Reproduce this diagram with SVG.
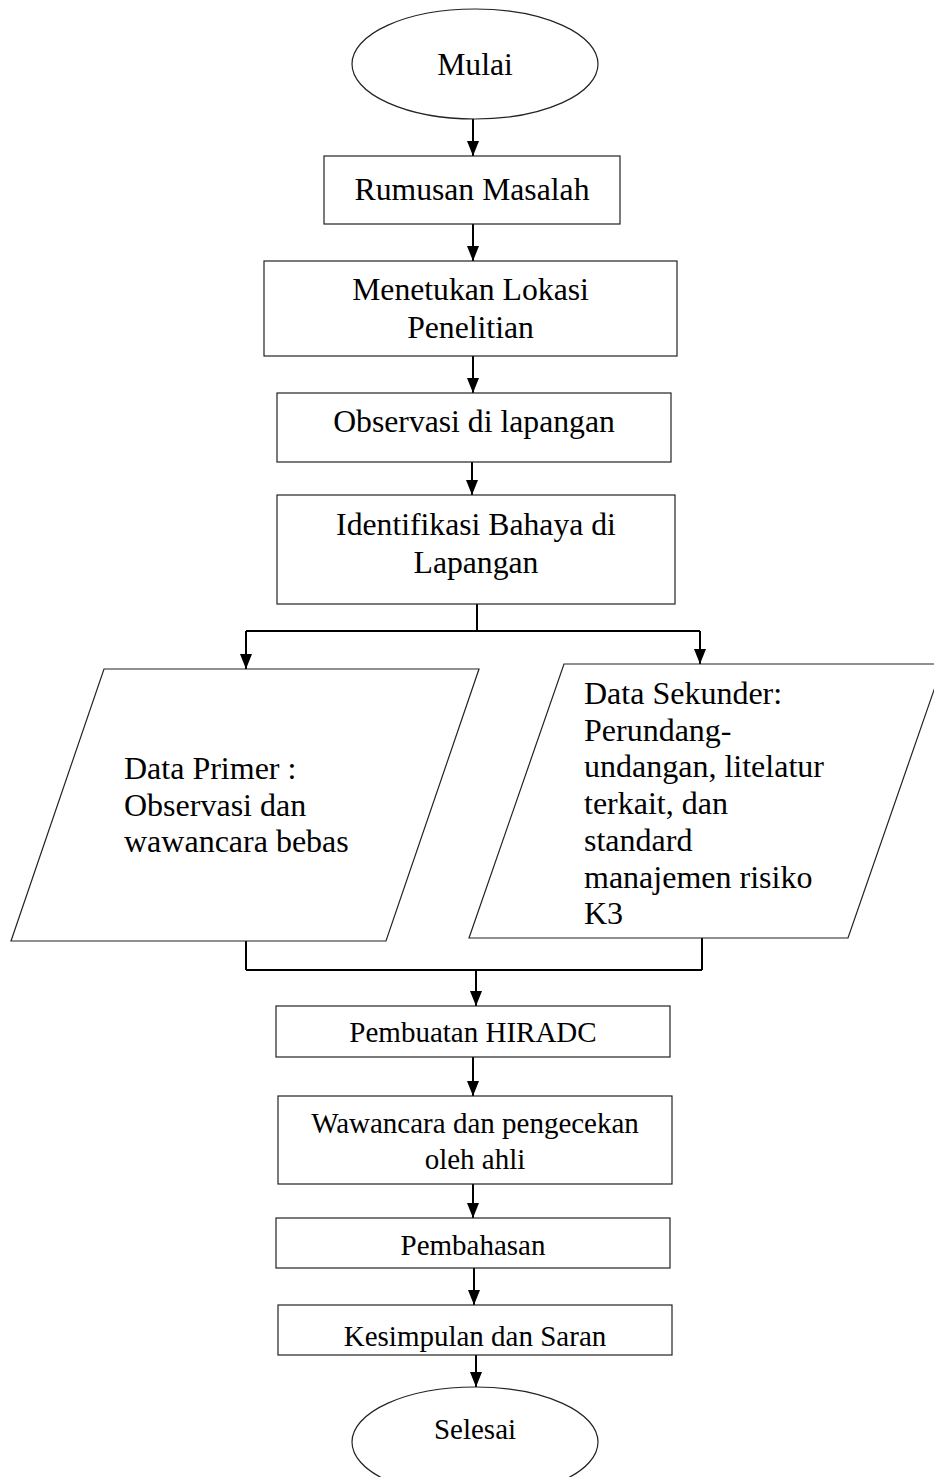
<svg xmlns="http://www.w3.org/2000/svg" width="934" height="1477" viewBox="0 0 934 1477">
<style>
.n{fill:#fff;stroke:#222;stroke-width:1.2}
.t{font-family:"Liberation Serif","Times New Roman",serif;fill:#000}
.b{font-size:31.7px;text-anchor:middle}
.s{font-size:29px;text-anchor:middle}
.p{font-size:32px}
.c{fill:none;stroke:#000;stroke-width:2}
</style>
<defs>
<marker id="arr" viewBox="0 0 15 12" refX="15" refY="6" markerWidth="15" markerHeight="12" markerUnits="userSpaceOnUse" orient="auto">
<path d="M0,0 L15,6 L0,12 z" fill="#000"/>
</marker>
<clipPath id="kclip"><rect x="278" y="1305" width="394" height="50"/></clipPath>
</defs>
<rect width="934" height="1477" fill="#fff"/>
<g id="connectors">
<path class="c" d="M473,119 V156" marker-end="url(#arr)"/>
<path class="c" d="M473,224 V261" marker-end="url(#arr)"/>
<path class="c" d="M473,356 V393" marker-end="url(#arr)"/>
<path class="c" d="M472,462 V495" marker-end="url(#arr)"/>
<path class="c" d="M477,604 V631 M246,631 H700"/>
<path class="c" d="M246,631 V669" marker-end="url(#arr)"/>
<path class="c" d="M700,631 V664" marker-end="url(#arr)"/>
<path class="c" d="M246,941 V970 M702,938 V970 M246,970 H702"/>
<path class="c" d="M476,970 V1006" marker-end="url(#arr)"/>
<path class="c" d="M473,1057 V1096" marker-end="url(#arr)"/>
<path class="c" d="M473,1184 V1218" marker-end="url(#arr)"/>
<path class="c" d="M474,1268 V1305" marker-end="url(#arr)"/>
<path class="c" d="M476,1355 V1387" marker-end="url(#arr)"/>
</g>
<g id="mulai">
<ellipse class="n" cx="475" cy="64" rx="123" ry="55"/>
<text class="t b" x="475" y="75">Mulai</text>
</g>
<g id="rumusan">
<rect class="n" x="324" y="156" width="296" height="68"/>
<text class="t b" x="472" y="200">Rumusan Masalah</text>
</g>
<g id="lokasi">
<rect class="n" x="264" y="261" width="413" height="95"/>
<text class="t b" x="470.5" y="300">Menetukan Lokasi</text>
<text class="t b" x="470.5" y="338">Penelitian</text>
</g>
<g id="observasi">
<rect class="n" x="277" y="393" width="394" height="69"/>
<text class="t b" x="474" y="432">Observasi di lapangan</text>
</g>
<g id="identifikasi">
<rect class="n" x="277" y="495" width="398" height="109"/>
<text class="t b" x="476" y="535">Identifikasi Bahaya di</text>
<text class="t b" x="476" y="573">Lapangan</text>
</g>
<g id="primer">
<polygon class="n" points="104,669 479,669 386,941 11,941"/>
<text class="t p" x="124" y="779">Data Primer :</text>
<text class="t p" x="124" y="816">Observasi dan</text>
<text class="t p" x="124" y="852">wawancara bebas</text>
</g>
<g id="sekunder">
<polygon class="n" points="564,664 943,664 848,938 469,938"/>
<text class="t p" x="584" y="704">Data Sekunder:</text>
<text class="t p" x="584" y="741">Perundang-</text>
<text class="t p" x="584" y="777">undangan, litelatur</text>
<text class="t p" x="584" y="814">terkait, dan</text>
<text class="t p" x="584" y="851">standard</text>
<text class="t p" x="584" y="888">manajemen risiko</text>
<text class="t p" x="584" y="924">K3</text>
</g>
<g id="hiradc">
<rect class="n" x="276" y="1006" width="394" height="51"/>
<text class="t s" x="473" y="1042">Pembuatan HIRADC</text>
</g>
<g id="wawancara">
<rect class="n" x="278" y="1096" width="394" height="88"/>
<text class="t s" x="475" y="1133">Wawancara dan pengecekan</text>
<text class="t s" x="475" y="1169">oleh ahli</text>
</g>
<g id="pembahasan">
<rect class="n" x="276" y="1218" width="394" height="50"/>
<text class="t s" x="473" y="1255">Pembahasan</text>
</g>
<g id="kesimpulan">
<rect class="n" x="278" y="1305" width="394" height="50"/>
<text class="t s" x="475" y="1346" clip-path="url(#kclip)">Kesimpulan dan Saran</text>
</g>
<g id="selesai">
<ellipse class="n" cx="475" cy="1442" rx="123" ry="55"/>
<text class="t s" x="475" y="1439">Selesai</text>
</g>
</svg>
